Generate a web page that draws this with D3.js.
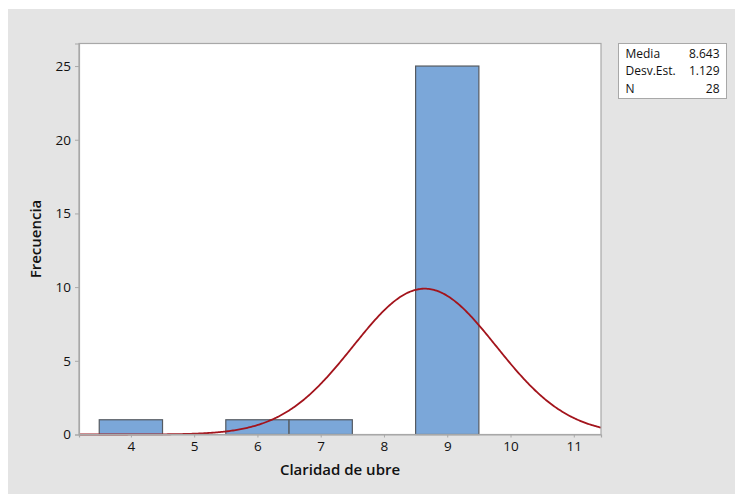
<!DOCTYPE html>
<html>
<head>
<meta charset="utf-8">
<script src="https://cdn.jsdelivr.net/npm/d3@7"></script>
<style>
  html, body { margin: 0; padding: 0; background: #ffffff; }
  svg { display: block; font-family: "Open Sans", "Noto Sans", sans-serif; }
</style>
</head>
<body>
<svg id="chart" width="735" height="494"></svg>
<script>
// Histogram bins (centre value and count)
const binCenters = [4, 5, 6, 7, 8, 9];
const binCounts = [1, 0, 1, 1, 0, 25];
const binWidth = 1;

// Fitted normal curve parameters
const mean = 8.643;
const stdDev = 1.129;
const n = 28;

// Axis ticks
const xTicks = [4, 5, 6, 7, 8, 9, 10, 11];
const yTicks = [0, 5, 10, 15, 20, 25];

// Summary table rows
const statLabels = ["Media", "Desv.Est.", "N"];
const statValues = ["8.643", "1.129", "28"];

const svg = d3.select("#chart");
const W = 735, H = 494;

// Panel background
svg.append("rect").attr("x", 0).attr("y", 0).attr("width", W).attr("height", H).attr("fill", "#ffffff");
svg.append("rect").attr("x", 8).attr("y", 9).attr("width", W - 8).attr("height", H - 9).attr("fill", "#e4e4e4");

const plot = { left: 79, top: 43.5, right: 601, bottom: 434.5 };

const x = d3.scaleLinear().domain([3.18, 11.43]).range([plot.left, plot.right]);
const y = d3.scaleLinear().domain([0, 26.53]).range([plot.bottom, plot.top]);

// Data region
svg.append("rect")
  .attr("x", plot.left).attr("y", plot.top)
  .attr("width", plot.right - plot.left).attr("height", plot.bottom - plot.top)
  .attr("fill", "#ffffff");

// Bars
svg.append("g").selectAll("rect")
  .data(binCenters.map((c, i) => ({ c, v: binCounts[i] })))
  .join("rect")
  .attr("x", d => x(d.c - binWidth / 2))
  .attr("y", d => y(d.v))
  .attr("width", d => x(d.c + binWidth / 2) - x(d.c - binWidth / 2))
  .attr("height", d => y(0) - y(d.v))
  .attr("fill", "#7ba7d9")
  .attr("stroke", "#555a60")
  .attr("stroke-width", 1.2);

// Normal curve scaled to frequency
const pdf = v => n * binWidth / (stdDev * Math.sqrt(2 * Math.PI)) *
  Math.exp(-0.5 * Math.pow((v - mean) / stdDev, 2));
const xs = d3.range(0, 401).map(i => x.domain()[0] + (x.domain()[1] - x.domain()[0]) * i / 400);
svg.append("path")
  .datum(xs)
  .attr("fill", "none")
  .attr("stroke", "#a3141c")
  .attr("stroke-width", 1.8)
  .attr("d", d3.line().x(d => x(d)).y(d => y(pdf(d))));

// Frame
svg.append("rect")
  .attr("x", plot.left).attr("y", plot.top)
  .attr("width", plot.right - plot.left).attr("height", plot.bottom - plot.top)
  .attr("fill", "none").attr("stroke", "#a8a8a8").attr("stroke-width", 1.2);

// Axes
const xAxis = d3.axisBottom(x).tickValues(xTicks).tickSize(3).tickPadding(4).tickFormat(d3.format("d"));
const yAxis = d3.axisLeft(y).tickValues(yTicks).tickSize(4).tickPadding(4).tickFormat(d3.format("d"));

const gx = svg.append("g").attr("transform", `translate(0,${plot.bottom})`).call(xAxis);
const gy = svg.append("g").attr("transform", `translate(${plot.left},0)`).call(yAxis);
[gx, gy].forEach(g => {
  g.select(".domain").attr("stroke", "#a8a8a8").attr("stroke-width", 1.2);
  g.selectAll(".tick line").attr("stroke", "#a8a8a8");
  g.selectAll(".tick text").attr("fill", "#111111").style("font-size", "13.5px")
    .style("font-weight", 500)
    .style("font-family", "'Open Sans', 'Noto Sans', sans-serif");
});

// Axis titles
svg.append("text")
  .attr("x", (plot.left + plot.right) / 2).attr("y", 475)
  .attr("text-anchor", "middle")
  .attr("fill", "#111111").style("font-size", "15px").style("font-weight", 600)
  .text("Claridad de ubre");

svg.append("text")
  .attr("transform", `translate(41,${(plot.top + plot.bottom) / 2}) rotate(-90)`)
  .attr("text-anchor", "middle")
  .attr("fill", "#111111").style("font-size", "15px").style("font-weight", 600)
  .text("Frecuencia");

// Summary table
const box = { x: 618.5, y: 43.5, w: 108, h: 55 };
svg.append("rect")
  .attr("x", box.x).attr("y", box.y).attr("width", box.w).attr("height", box.h)
  .attr("fill", "#ffffff").attr("stroke", "#a8a8a8").attr("stroke-width", 1);
const rows = svg.append("g").selectAll("g")
  .data(statLabels.map((l, i) => ({ l, v: statValues[i], i })))
  .join("g");
rows.append("text")
  .attr("x", box.x + 7).attr("y", d => box.y + 14 + d.i * 17.5)
  .attr("fill", "#111111").style("font-size", "12px").style("font-weight", 500)
  .text(d => d.l);
rows.append("text")
  .attr("x", box.x + box.w - 7).attr("y", d => box.y + 14 + d.i * 17.5)
  .attr("text-anchor", "end")
  .attr("fill", "#111111").style("font-size", "12px").style("font-weight", 500)
  .text(d => d.v);
</script>
</body>
</html>
